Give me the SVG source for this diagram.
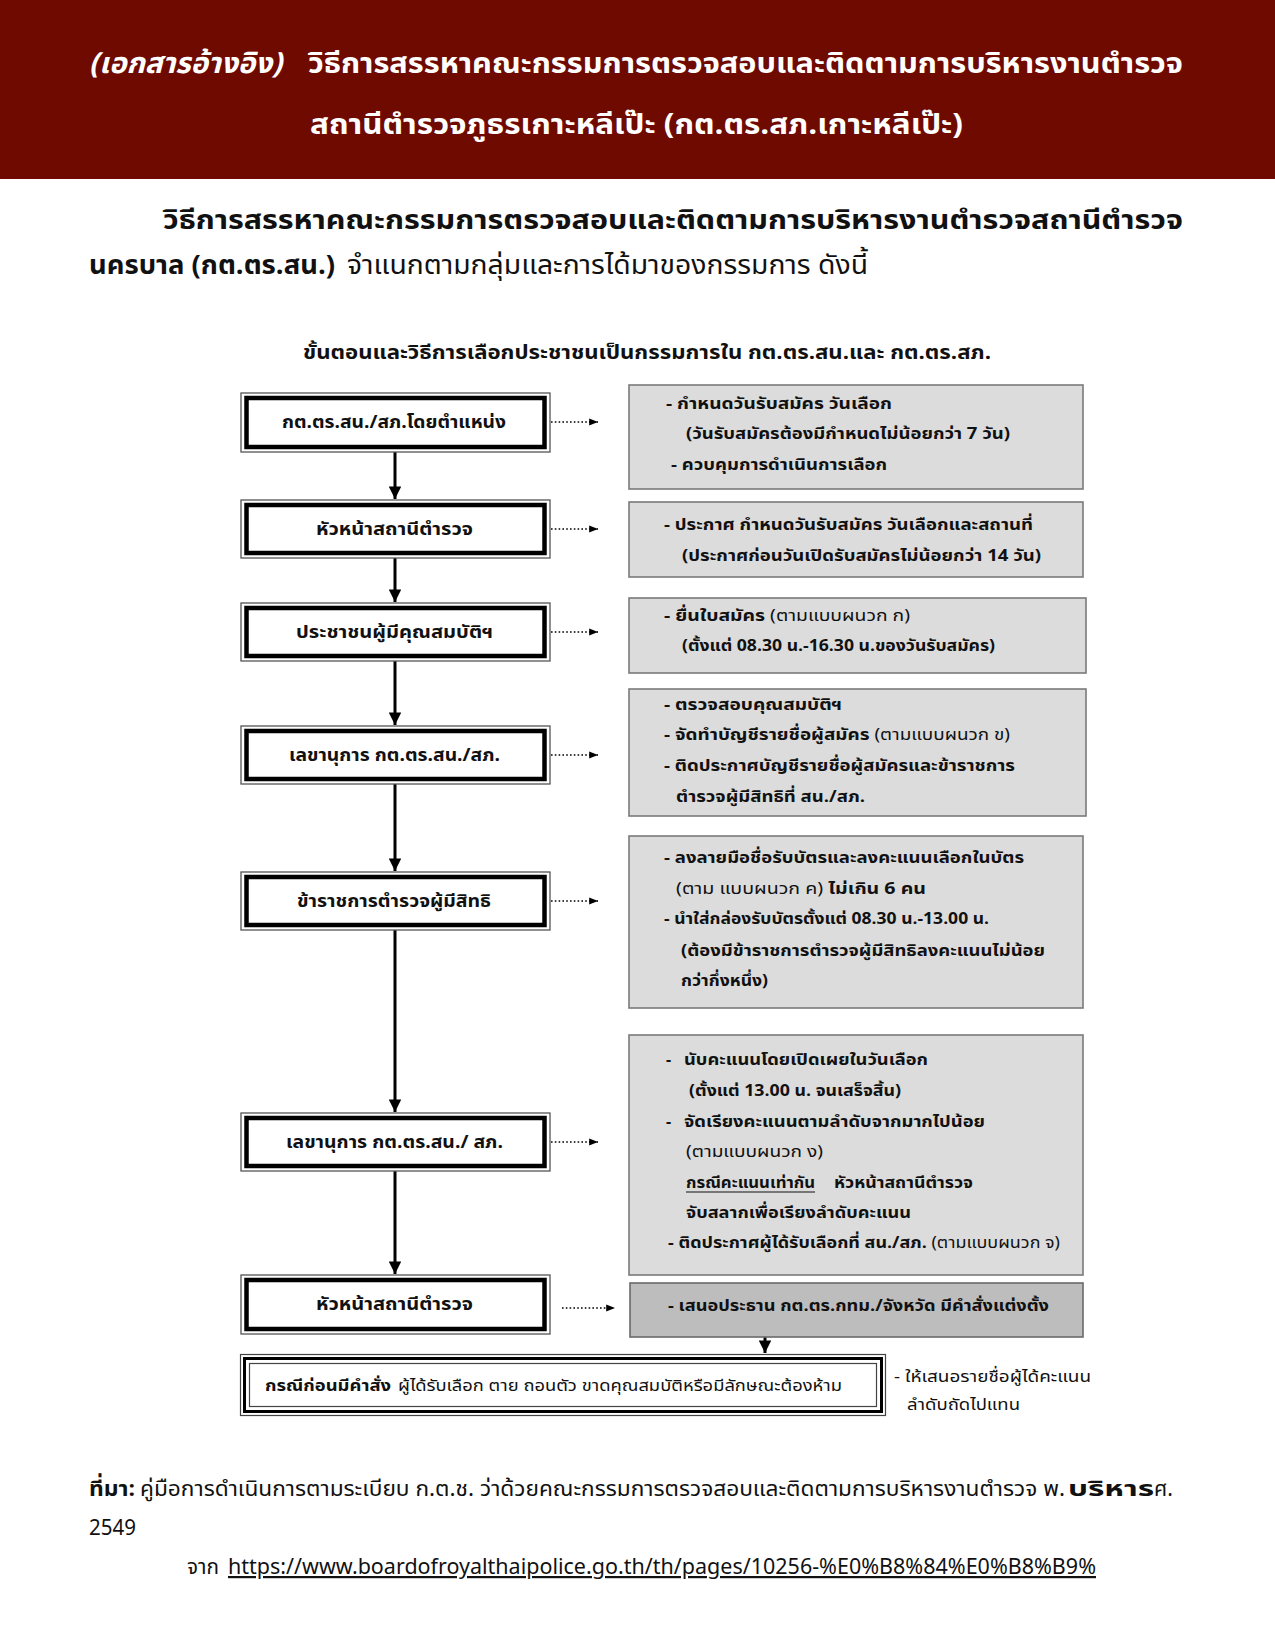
<svg xmlns="http://www.w3.org/2000/svg" width="1275" height="1650" viewBox="0 0 1275 1650">
<defs>
<style>
.th{font-family:"Noto Sans Thai","Noto Serif Thai","Noto Sans","DejaVu Sans",sans-serif;}
.hd{font-size:29px;fill:#ffffff;font-weight:bold;}
.para{font-size:27px;fill:#111;}
.dt{font-size:19px;font-weight:bold;fill:#111;}
.bx{font-size:17px;font-weight:bold;fill:#111;}
.rt{font-size:16px;font-weight:bold;fill:#111;}
.ft{font-size:22px;fill:#111;}
.b{font-weight:bold;}
.n{font-weight:normal;}
.outer{fill:#fff;stroke:#555;stroke-width:1.3;}
.inner{fill:none;stroke:#000;stroke-width:4.5;}
.gbox{fill:#dcdcdc;stroke:#7a7a7a;stroke-width:1.6;}
.gbox2{fill:#bdbdbd;stroke:#6a6a6a;stroke-width:1.6;}
.vline{stroke:#000;stroke-width:3;fill:none;}
.dline{stroke:#000;stroke-width:1.6;stroke-dasharray:1.6 2.2;fill:none;}
</style>
<marker id="ah" viewBox="0 0 10 10" refX="10" refY="5" markerWidth="4.2" markerHeight="4.2" orient="auto" markerUnits="strokeWidth">
<path d="M0,0 L10,5 L0,10 z" fill="#000"/>
</marker>
<marker id="dh" viewBox="0 0 10 10" refX="10" refY="5" markerWidth="5.5" markerHeight="5.5" orient="auto" markerUnits="strokeWidth">
<path d="M0,1 L10,5 L0,9 z" fill="#000"/>
</marker>
</defs>
<rect width="1275" height="1650" fill="#ffffff"/>

<g id="header">
<rect x="0" y="0" width="1275" height="179" fill="#6e0a00"/>
<text class="th hd" x="89" y="73" textLength="193" lengthAdjust="spacingAndGlyphs" font-style="italic" font-weight="normal">(เอกสารอ้างอิง)</text>
<text class="th hd" x="308" y="73" textLength="875" lengthAdjust="spacingAndGlyphs">วิธีการสรรหาคณะกรรมการตรวจสอบและติดตามการบริหารงานตำรวจ</text>
<text class="th hd" x="310" y="134" textLength="653" lengthAdjust="spacingAndGlyphs">สถานีตำรวจภูธรเกาะหลีเป๊ะ (กต.ตร.สภ.เกาะหลีเป๊ะ)</text>
</g>

<g id="intro">
<text class="th para b" x="163" y="229" textLength="1020" lengthAdjust="spacingAndGlyphs">วิธีการสรรหาคณะกรรมการตรวจสอบและติดตามการบริหารงานตำรวจสถานีตำรวจ</text>
<text class="th para b" x="89" y="274" textLength="246" lengthAdjust="spacingAndGlyphs">นครบาล (กต.ตร.สน.)</text>
<text class="th para" x="347" y="274" textLength="521" lengthAdjust="spacingAndGlyphs">จำแนกตามกลุ่มและการได้มาของกรรมการ ดังนี้</text>
</g>

<g id="diagram-title">
<text class="th dt" x="303" y="359" textLength="688" lengthAdjust="spacingAndGlyphs">ขั้นตอนและวิธีการเลือกประชาชนเป็นกรรมการใน กต.ตร.สน.และ กต.ตร.สภ.</text>
</g>

<g id="connectors">
<line class="vline" x1="395" y1="452" x2="395" y2="499" marker-end="url(#ah)"/>
<line class="vline" x1="395" y1="558" x2="395" y2="602" marker-end="url(#ah)"/>
<line class="vline" x1="395" y1="661" x2="395" y2="725" marker-end="url(#ah)"/>
<line class="vline" x1="395" y1="784" x2="395" y2="871" marker-end="url(#ah)"/>
<line class="vline" x1="395" y1="930" x2="395" y2="1112" marker-end="url(#ah)"/>
<line class="vline" x1="395" y1="1171" x2="395" y2="1274" marker-end="url(#ah)"/>
<line class="vline" x1="765" y1="1337" x2="765" y2="1353" marker-end="url(#ah)"/>
<line class="dline" x1="551" y1="422" x2="598" y2="422" marker-end="url(#dh)"/>
<line class="dline" x1="551" y1="529" x2="598" y2="529" marker-end="url(#dh)"/>
<line class="dline" x1="551" y1="632" x2="598" y2="632" marker-end="url(#dh)"/>
<line class="dline" x1="551" y1="755" x2="598" y2="755" marker-end="url(#dh)"/>
<line class="dline" x1="551" y1="901" x2="598" y2="901" marker-end="url(#dh)"/>
<line class="dline" x1="551" y1="1142" x2="598" y2="1142" marker-end="url(#dh)"/>
<line class="dline" x1="562" y1="1308" x2="615" y2="1308" marker-end="url(#dh)"/>
</g>

<g id="b1">
<rect class="outer" x="241" y="393" width="309" height="59"/>
<rect class="inner" x="246.5" y="398" width="298" height="49"/>
<text class="th bx" x="282" y="428" textLength="224" lengthAdjust="spacingAndGlyphs">กต.ตร.สน./สภ.โดยตำแหน่ง</text>
</g>
<g id="b2">
<rect class="outer" x="241" y="500" width="309" height="58"/>
<rect class="inner" x="246.5" y="505" width="298" height="48"/>
<text class="th bx" x="316" y="535" textLength="157" lengthAdjust="spacingAndGlyphs">หัวหน้าสถานีตำรวจ</text>
</g>
<g id="b3">
<rect class="outer" x="241" y="603" width="309" height="58"/>
<rect class="inner" x="246.5" y="608" width="298" height="48"/>
<text class="th bx" x="296" y="638" textLength="197" lengthAdjust="spacingAndGlyphs">ประชาชนผู้มีคุณสมบัติฯ</text>
</g>
<g id="b4">
<rect class="outer" x="241" y="726" width="309" height="58"/>
<rect class="inner" x="246.5" y="731" width="298" height="48"/>
<text class="th bx" x="289" y="761" textLength="211" lengthAdjust="spacingAndGlyphs">เลขานุการ กต.ตร.สน./สภ.</text>
</g>
<g id="b5">
<rect class="outer" x="241" y="872" width="309" height="58"/>
<rect class="inner" x="246.5" y="877" width="298" height="48"/>
<text class="th bx" x="297" y="907" textLength="194" lengthAdjust="spacingAndGlyphs">ข้าราชการตำรวจผู้มีสิทธิ</text>
</g>
<g id="b6">
<rect class="outer" x="241" y="1113" width="309" height="58"/>
<rect class="inner" x="246.5" y="1118" width="298" height="48"/>
<text class="th bx" x="286" y="1148" textLength="217" lengthAdjust="spacingAndGlyphs">เลขานุการ กต.ตร.สน./ สภ.</text>
</g>
<g id="b7">
<rect class="outer" x="241" y="1275" width="309" height="59"/>
<rect class="inner" x="246.5" y="1280" width="298" height="49"/>
<text class="th bx" x="316" y="1310" textLength="157" lengthAdjust="spacingAndGlyphs">หัวหน้าสถานีตำรวจ</text>
</g>

<g id="r1">
<rect class="gbox" x="629" y="385" width="454" height="104"/>
<text class="th rt" x="666" y="409" textLength="226" lengthAdjust="spacingAndGlyphs">- กำหนดวันรับสมัคร วันเลือก</text>
<text class="th rt" x="686" y="439" textLength="324" lengthAdjust="spacingAndGlyphs">(วันรับสมัครต้องมีกำหนดไม่น้อยกว่า 7 วัน)</text>
<text class="th rt" x="671" y="470" textLength="216" lengthAdjust="spacingAndGlyphs">- ควบคุมการดำเนินการเลือก</text>
</g>
<g id="r2">
<rect class="gbox" x="629" y="502" width="454" height="75"/>
<text class="th rt" x="664" y="530" textLength="369" lengthAdjust="spacingAndGlyphs">- ประกาศ กำหนดวันรับสมัคร วันเลือกและสถานที่</text>
<text class="th rt" x="682" y="561" textLength="359" lengthAdjust="spacingAndGlyphs">(ประกาศก่อนวันเปิดรับสมัครไม่น้อยกว่า 14 วัน)</text>
</g>
<g id="r3">
<rect class="gbox" x="629" y="598" width="457" height="75"/>
<text class="th rt" x="664" y="621" textLength="246" lengthAdjust="spacingAndGlyphs">- ยื่นใบสมัคร <tspan class="n">(ตามแบบผนวก ก)</tspan></text>
<text class="th rt" x="682" y="651" textLength="313" lengthAdjust="spacingAndGlyphs">(ตั้งแต่ 08.30 น.-16.30 น.ของวันรับสมัคร)</text>
</g>
<g id="r4">
<rect class="gbox" x="629" y="689" width="457" height="127"/>
<text class="th rt" x="664" y="710" textLength="178" lengthAdjust="spacingAndGlyphs">- ตรวจสอบคุณสมบัติฯ</text>
<text class="th rt" x="664" y="740" textLength="346" lengthAdjust="spacingAndGlyphs">- จัดทำบัญชีรายชื่อผู้สมัคร <tspan class="n">(ตามแบบผนวก ข)</tspan></text>
<text class="th rt" x="664" y="771" textLength="351" lengthAdjust="spacingAndGlyphs">- ติดประกาศบัญชีรายชื่อผู้สมัครและข้าราชการ</text>
<text class="th rt" x="676" y="802" textLength="189" lengthAdjust="spacingAndGlyphs">ตำรวจผู้มีสิทธิที่ สน./สภ.</text>
</g>
<g id="r5">
<rect class="gbox" x="629" y="836" width="454" height="172"/>
<text class="th rt" x="664" y="863" textLength="360" lengthAdjust="spacingAndGlyphs">- ลงลายมือชื่อรับบัตรและลงคะแนนเลือกในบัตร</text>
<text class="th rt" x="676" y="894" textLength="250" lengthAdjust="spacingAndGlyphs"><tspan class="n">(ตาม แบบผนวก ค)</tspan> ไม่เกิน 6 คน</text>
<text class="th rt" x="664" y="924" textLength="325" lengthAdjust="spacingAndGlyphs">- นำใส่กล่องรับบัตรตั้งแต่ 08.30 น.-13.00 น.</text>
<text class="th rt" x="681" y="956" textLength="364" lengthAdjust="spacingAndGlyphs">(ต้องมีข้าราชการตำรวจผู้มีสิทธิลงคะแนนไม่น้อย</text>
<text class="th rt" x="681" y="986" textLength="87" lengthAdjust="spacingAndGlyphs">กว่ากึ่งหนึ่ง)</text>
</g>
<g id="r6">
<rect class="gbox" x="629" y="1035" width="454" height="240"/>
<text class="th rt" x="666" y="1065">-</text>
<text class="th rt" x="684" y="1065" textLength="244" lengthAdjust="spacingAndGlyphs">นับคะแนนโดยเปิดเผยในวันเลือก</text>
<text class="th rt" x="689" y="1096" textLength="212" lengthAdjust="spacingAndGlyphs">(ตั้งแต่ 13.00 น. จนเสร็จสิ้น)</text>
<text class="th rt" x="666" y="1127">-</text>
<text class="th rt" x="684" y="1127" textLength="301" lengthAdjust="spacingAndGlyphs">จัดเรียงคะแนนตามลำดับจากมากไปน้อย</text>
<text class="th rt n" x="686" y="1157" textLength="137" lengthAdjust="spacingAndGlyphs">(ตามแบบผนวก ง)</text>
<text class="th rt" x="686" y="1188" textLength="129" lengthAdjust="spacingAndGlyphs">กรณีคะแนนเท่ากัน</text>
<line x1="686" y1="1192" x2="815" y2="1192" stroke="#111" stroke-width="1.2"/>
<text class="th rt" x="834" y="1188" textLength="139" lengthAdjust="spacingAndGlyphs">หัวหน้าสถานีตำรวจ</text>
<text class="th rt" x="686" y="1218" textLength="225" lengthAdjust="spacingAndGlyphs">จับสลากเพื่อเรียงลำดับคะแนน</text>
<text class="th rt" x="668" y="1248" textLength="392" lengthAdjust="spacingAndGlyphs">- ติดประกาศผู้ได้รับเลือกที่ สน./สภ. <tspan class="n">(ตามแบบผนวก จ)</tspan></text>
</g>
<g id="r7">
<rect class="gbox2" x="630" y="1283" width="453" height="54"/>
<text class="th rt" x="668" y="1311" textLength="381" lengthAdjust="spacingAndGlyphs">-  เสนอประธาน กต.ตร.กทม./จังหวัด มีคำสั่งแต่งตั้ง</text>
</g>

<g id="b8">
<rect x="240.5" y="1354.5" width="645" height="61" fill="#fff" stroke="#444" stroke-width="1.2"/>
<rect x="244.5" y="1358.5" width="637" height="53" fill="none" stroke="#000" stroke-width="3"/>
<rect x="249.5" y="1363.5" width="627" height="43" fill="none" stroke="#444" stroke-width="1.2"/>
<text class="th rt" x="265" y="1391" font-size="18" textLength="126" lengthAdjust="spacingAndGlyphs">กรณีก่อนมีคำสั่ง</text>
<text class="th rt n" x="398" y="1391" textLength="444" lengthAdjust="spacingAndGlyphs">ผู้ได้รับเลือก ตาย ถอนตัว ขาดคุณสมบัติหรือมีลักษณะต้องห้าม</text>
</g>

<g id="side-note">
<text class="th rt n" x="894" y="1382" textLength="197" lengthAdjust="spacingAndGlyphs">- ให้เสนอรายชื่อผู้ได้คะแนน</text>
<text class="th rt n" x="907" y="1410" textLength="113" lengthAdjust="spacingAndGlyphs">ลำดับถัดไปแทน</text>
</g>

<g id="footer">
<text class="th ft b" x="89" y="1496" textLength="46" lengthAdjust="spacingAndGlyphs">ที่มา:</text>
<text class="th ft" x="140" y="1496" textLength="925" lengthAdjust="spacingAndGlyphs">คู่มือการดำเนินการตามระเบียบ ก.ต.ช. ว่าด้วยคณะกรรมการตรวจสอบและติดตามการบริหารงานตำรวจ พ.</text>
<text class="th ft b" x="1068" y="1496" font-size="28" textLength="86" lengthAdjust="spacingAndGlyphs">บริหาร</text>
<text class="th ft" x="1154" y="1496" textLength="19" lengthAdjust="spacingAndGlyphs">ศ.</text>
<text class="th ft" x="89" y="1535" textLength="47" lengthAdjust="spacingAndGlyphs">2549</text>
<text class="th ft" x="187" y="1574" textLength="32" lengthAdjust="spacingAndGlyphs">จาก</text>
<text class="th ft" x="228" y="1574" fill="#0563c1" text-decoration="underline" textLength="868" lengthAdjust="spacingAndGlyphs">https://www.boardofroyalthaipolice.go.th/th/pages/10256-%E0%B8%84%E0%B8%B9%</text>
</g>
</svg>
